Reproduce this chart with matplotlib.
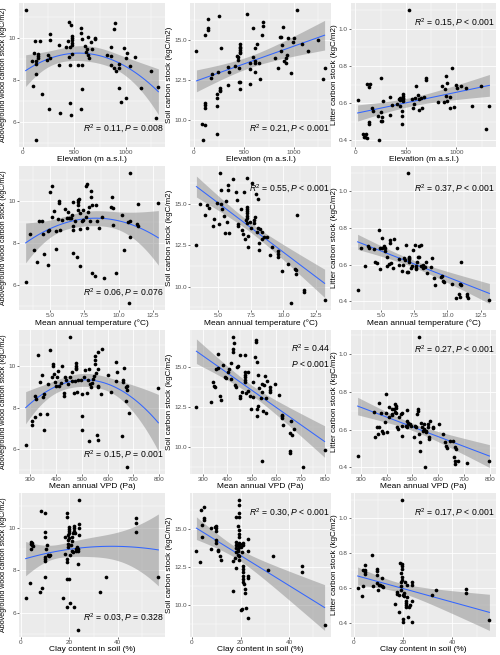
import numpy as np
import matplotlib
matplotlib.use("Agg")
import matplotlib.pyplot as plt
from matplotlib.ticker import AutoMinorLocator

plt.rcParams['font.family'] = ['Liberation Sans', 'DejaVu Sans']
plt.rcParams['mathtext.fontset'] = 'custom'
plt.rcParams['mathtext.rm'] = 'Liberation Sans'
plt.rcParams['mathtext.it'] = 'Liberation Sans:italic'

# ---- data ----
elev_wood_x = [30,121,174,115,154,154,154,89,131,131,128,98,187,128,256,269,266,246,269,236,354,354,361,426,443,449,472,459,449,456,456,466,482,482,482,482,482,482,538,577,564,564,574,564,577,604,623,613,636,646,636,663,679,705,705,820,859,859,859,886,892,902,909,935,941,941,958,981,1000,1007,1017,1040,1089,1148,1246,1296,1319]
elev_wood_y = [11.35,9.84,9.84,9.31,9.26,9.15,9.03,8.92,8.92,8.79,8.31,7.71,7.35,5.14,6.64,10.17,9.92,9.18,9.03,8.95,9.69,8.71,6.44,9.55,9.86,10.78,10.64,9.59,9.11,8.71,6.94,6.36,10.08,10.0,9.89,9.78,9.65,9.26,8.71,8.71,10.47,10.24,9.97,6.64,7.58,9.61,9.5,9.34,9.18,9.03,10.05,9.81,9.47,10.02,9.94,9.18,9.15,9.55,8.71,8.6,10.44,10.71,8.43,7.65,8.76,8.56,6.96,9.53,7.14,9.03,9.31,8.67,9.11,7.65,8.43,6.2,7.69]

elev_soil_x = [24,81,92,108,115,115,115,115,142,142,142,166,176,227,234,234,234,251,244,261,261,261,271,339,346,356,414,431,437,437,447,454,458,464,464,464,464,464,464,464,532,559,566,566,593,590,610,617,617,634,617,651,658,685,695,695,814,844,865,875,871,885,895,905,922,929,932,949,973,990,1007,1034,1085,1142,1244,1295,1312]
elev_soil_y = [14.3,9.79,8.74,15.29,9.73,11.07,10.96,10.76,15.7,15.6,16.28,12.6,12.85,11.64,11.37,10.9,9.15,16.48,13.02,11.99,11.9,11.8,14.46,12.16,13.33,12.98,13.35,14.01,13.95,13.74,13.23,12.4,11.93,14.71,14.57,14.46,14.36,14.26,14.15,12.4,16.57,13.54,13.17,12.24,15.74,13.95,14.5,13.54,13.7,14.71,12.98,13.54,12.57,15.29,16.07,15.87,13.85,13.23,15.19,15.19,14.3,14.67,15.8,13.68,13.89,13.54,14.05,15.12,12.92,14.88,15.08,16.87,14.71,14.3,14.98,12.55,13.23]

elev_litter_x = [23,77,85,95,110,113,113,133,133,140,150,177,167,227,233,250,260,250,257,267,277,343,343,367,417,433,440,443,443,460,460,467,473,473,473,473,473,560,533,567,583,593,600,617,627,633,650,660,683,700,700,817,860,873,883,893,900,907,910,933,940,953,977,1000,1010,1050,1100,1150,1243,1293,1327]
elev_litter_y = [0.617,0.435,0.418,0.42,0.437,0.414,0.705,0.497,0.49,0.686,0.704,0.559,0.576,0.532,0.4,0.506,0.502,0.735,0.55,0.527,0.612,0.633,0.538,0.59,0.598,0.621,0.615,0.63,0.585,0.559,0.488,0.532,0.647,0.638,0.63,0.62,0.612,0.62,1.102,0.576,0.594,0.63,0.691,0.644,0.562,0.62,0.63,0.576,0.633,0.735,0.726,0.608,0.691,0.606,0.674,0.744,0.638,0.709,0.612,0.576,0.633,0.788,0.582,0.695,0.682,0.691,0.682,0.585,0.691,0.462,0.585]

mat_wood_x = [3.22,3.52,3.82,4.06,4.21,4.43,4.51,4.58,4.83,4.83,4.95,5.0,5.12,5.12,5.3,5.42,5.42,5.57,5.62,5.62,5.69,5.86,6.11,6.23,6.31,6.36,6.43,6.53,6.6,6.65,6.68,6.68,6.68,6.85,6.97,7.02,7.05,7.05,7.1,7.05,7.15,7.15,7.15,7.35,7.42,7.42,7.6,7.64,7.72,7.72,7.77,7.84,7.89,8.01,8.01,8.04,8.09,8.26,8.33,8.45,8.58,8.82,8.9,9.44,9.52,9.57,9.57,9.81,10.26,10.43,10.72,10.8,10.8,10.8,10.75,11.37,11.42,11.42,12.9]
mat_wood_y = [6.17,8.44,7.66,7.11,9.06,9.02,8.44,7.5,6.94,8.55,8.62,10.42,10.69,9.25,9.53,7.72,8.58,9.12,10.0,9.9,8.62,9.09,9.59,9.2,9.48,9.17,9.17,9.17,9.33,9.92,8.81,8.62,7.53,9.02,7.33,9.8,10.03,9.92,10.06,9.56,9.41,8.67,6.9,9.02,9.09,9.56,9.25,10.69,10.78,8.7,9.48,9.72,9.02,10.47,10.19,9.8,6.59,6.44,9.8,9.06,8.7,9.22,6.36,9.72,10.16,9.64,8.86,6.59,9.3,7.69,8.97,9.02,8.28,11.33,5.14,8.89,8.78,9.83,9.9]

mat_soil_x = [3.3,3.61,3.94,4.1,4.28,4.59,4.66,4.85,5.03,5.1,5.18,5.23,5.28,5.44,5.49,5.57,5.62,5.75,5.75,5.8,6.08,6.34,6.44,6.47,6.52,6.73,6.78,6.86,6.96,7.04,7.11,7.16,7.19,7.22,7.22,7.22,7.22,7.22,7.22,7.29,7.29,7.42,7.5,7.55,7.76,7.81,7.76,7.89,7.94,8.02,8.07,8.14,8.14,8.2,8.32,8.32,8.53,8.71,8.97,9.1,9.56,9.61,9.61,9.87,10.39,10.59,10.9,10.95,10.98,11.03,11.55,11.55,13.17]
mat_soil_y = [12.49,15.0,14.32,14.94,14.75,13.66,14.07,15.06,13.81,16.89,15.82,15.0,14.69,14.28,13.25,15.16,13.93,16.13,15.86,13.25,16.5,15.72,15.25,13.81,13.66,14.69,13.4,13.19,15.72,12.88,14.01,13.87,16.58,14.69,14.59,14.42,14.28,14.14,14.79,13.05,12.37,13.93,13.52,16.28,14.01,14.18,13.87,15.62,13.31,15.31,13.56,12.22,12.63,13.46,13.31,12.9,12.98,12.98,11.91,12.37,12.16,11.95,11.81,10.93,11.4,8.99,11.09,10.99,10.78,14.32,9.79,9.69,9.2]

mat_litter_x = [3.24,3.5,3.8,4.0,4.13,4.44,4.52,4.69,4.82,4.9,4.9,5.08,5.08,5.2,5.33,5.33,5.46,5.46,5.59,5.66,5.66,5.76,5.89,5.97,6.22,6.35,6.35,6.6,6.65,6.73,6.81,6.91,6.98,7.03,7.11,7.11,7.11,7.11,7.06,7.24,7.37,7.44,7.54,7.62,7.67,7.67,7.75,7.82,7.87,7.88,8.0,8.0,8.13,8.2,8.33,8.38,8.5,8.77,8.84,9.02,9.1,9.53,9.6,9.66,9.78,10.37,10.93,11.0,11.06,10.93,10.62,10.88,11.5,11.55,11.5,13.17]
mat_litter_y = [0.463,0.692,0.591,0.701,0.692,0.683,0.617,0.612,0.792,0.577,0.689,0.689,0.746,0.703,0.692,0.674,0.641,0.591,0.605,0.733,0.721,0.609,0.582,0.738,0.692,0.632,0.6,0.564,0.596,0.639,0.626,0.71,0.56,0.562,0.644,0.639,0.63,0.617,1.103,0.582,0.594,0.68,0.71,0.582,0.591,0.575,0.617,0.642,0.64,0.701,0.71,0.591,0.596,0.582,0.587,0.617,0.555,0.585,0.639,0.528,0.488,0.534,0.537,0.511,0.507,0.496,0.496,0.489,0.617,0.422,0.42,0.439,0.439,0.418,0.43,0.407]

vpd_wood_x = [282,307,308,317,320,324,330,337,339,346,350,354,354,363,370,376,383,389,389,393,396,400,403,409,413,420,422,429,429,433,439,446,455,455,462,462,468,475,478,478,478,478,482,484,495,499,501,501,508,514,521,524,528,528,532,534,541,545,547,551,551,551,554,557,561,561,561,563,564,574,580,600,613,633,633,636,659,659,657,662,672,676,675,672,676,682,797]
vpd_wood_y = [6.2,7.38,7.19,7.56,8.55,8.42,10.5,9.22,7.69,9.56,8.52,8.63,6.95,7.69,9.14,10.73,9.48,10.06,9.98,9.59,9.2,9.05,9.48,9.75,9.02,9.17,9.98,8.7,8.55,9.48,9.3,9.13,11.39,9.48,9.72,9.28,8.7,9.25,10.11,9.98,9.91,9.83,8.75,9.33,9.33,8.63,7.58,6.95,9.48,9.8,8.7,9.3,9.83,6.39,9.13,8.98,9.17,9.36,9.52,10.06,10.27,10.45,9.67,6.67,6.47,9.05,8.98,9.83,10.66,8.67,10.81,9.56,8.73,10.19,9.25,9.72,9.3,9.2,6.63,9.88,8.97,9.05,8.86,8.31,5.14,7.73,8.94]

vpd_soil_x = [273,334,341,345,348,355,362,362,368,375,382,389,396,403,407,416,416,421,423,423,427,430,433,437,444,451,451,451,458,471,471,471,471,471,471,475,482,485,492,496,503,505,512,516,516,519,519,522,523,526,530,536,540,540,542,547,551,553,558,558,560,574,574,574,595,612,622,622,622,625,656,660,663,670,656,656,707,797]
vpd_soil_y = [12.48,12.83,14.03,13.82,13.72,14.86,14.9,15.79,13.2,12.95,15.1,14.34,14.28,14.65,14.86,14.24,15.23,16.88,16.1,15.89,16.47,13.86,13.72,14.96,15.06,15.72,13.2,13.04,13.45,14.65,14.48,14.34,14.17,14.03,15.72,13.35,13.51,14.65,13.2,12.38,13.1,14.03,15.58,16.67,16.51,15.27,12.38,11.92,12.58,14.48,13.66,13.04,13.93,9.11,13.45,12.21,13.86,14.44,12.13,13.04,14.13,13.72,13.57,13.41,13.93,13.24,11.8,11.92,12.0,11.38,10.89,11.59,10.76,11.1,9.73,9.63,8.72,9.79]

vpd_litter_x = [288,350,356,363,369,367,372,378,382,386,395,398,399,402,408,411,419,421,421,428,432,434,437,437,438,441,445,448,454,458,458,461,474,478,480,483,487,491,480,493,504,510,515,519,523,523,526,526,528,528,532,536,541,543,545,549,552,552,558,558,562,565,569,581,581,604,617,624,630,633,646,656,663,663,659,666,669,676,709,797]
vpd_litter_y = [0.461,0.695,0.558,0.611,0.614,0.575,0.742,0.689,0.593,0.584,0.64,0.689,0.789,0.589,0.667,0.719,0.711,0.684,0.677,0.707,0.695,0.733,0.725,0.716,0.689,0.611,0.602,0.667,0.681,0.567,0.619,0.689,0.619,0.702,0.646,0.637,0.632,0.628,0.611,0.619,0.563,0.619,0.611,0.684,0.698,0.707,1.093,0.575,0.532,0.488,0.637,0.614,0.593,0.602,0.632,0.4,0.589,0.593,0.628,0.611,0.549,0.558,0.646,0.614,0.607,0.628,0.579,0.532,0.514,0.502,0.54,0.54,0.432,0.418,0.453,0.505,0.496,0.435,0.421,0.435]

clay_wood_x = [2.1,3.7,4.1,4.1,4.4,4.8,4.8,5.1,7.9,8.3,8.85,9.96,10.2,10.2,10.2,10.2,10.2,10.2,10.65,11.06,11.3,11.75,12.0,17.3,18.3,18.3,18.95,18.95,18.95,18.95,19.2,19.2,19.6,19.6,19.6,19.6,19.9,20.05,20.05,20.05,20.05,20.05,20.3,20.3,20.6,21.0,21.0,21.3,21.4,21.7,22.0,22.0,22.0,22.0,22.4,22.8,22.8,23.1,23.4,23.4,23.8,23.8,24.1,24.2,24.2,24.2,32.5,34.9,47.3,47.3,47.3,56.6]
clay_wood_y = [6.67,7.41,9.32,9.22,9.0,9.16,9.27,9.12,6.98,10.79,7.15,10.71,9.78,9.55,8.6,8.5,8.42,7.67,9.0,9.19,8.73,8.68,8.73,6.68,9.58,8.76,10.67,10.51,6.25,8.5,8.39,7.57,9.66,9.43,9.22,9.07,7.57,10.05,9.94,9.84,9.74,9.5,6.45,8.73,9.19,9.58,9.38,8.91,9.74,8.84,10.09,10.0,9.84,6.28,9.74,8.99,8.91,9.07,5.16,8.29,8.88,9.0,10.16,11.32,9.97,9.66,6.98,7.67,10.47,10.2,9.78,7.67]

clay_soil_x = [1.8,3.45,3.86,4.14,4.14,4.97,4.97,4.97,7.72,8.0,9.38,9.8,9.8,9.8,9.8,9.8,10.5,10.75,11.45,11.86,17.0,17.0,17.65,17.93,18.07,18.3,18.3,18.3,18.3,18.76,18.76,19.0,19.0,19.0,19.3,19.3,19.3,19.3,19.3,19.3,19.3,19.3,19.3,19.3,19.3,20.1,20.4,19.7,20.1,20.4,20.8,21.1,21.1,21.1,21.1,21.1,21.1,21.1,21.5,21.8,21.8,22.1,22.9,23.2,23.2,23.2,23.2,33.5,31.2,45.5,45.5,54.6]
clay_soil_y = [13.55,12.86,16.31,15.31,14.48,16.45,15.77,15.62,15.1,13.69,15.15,15.21,15.06,14.9,14.32,14.07,13.55,13.65,13.24,12.99,10.91,12.93,13.13,13.49,12.47,15.83,14.17,13.96,13.76,15.21,13.34,13.55,13.69,13.96,16.97,16.6,16.1,15.83,14.94,14.69,14.48,14.11,13.82,13.24,12.99,9.67,9.75,14.03,13.86,13.49,14.11,14.0,12.57,12.37,12.16,11.95,11.74,11.51,11.37,11.06,10.79,9.81,9.15,14.38,13.55,11.89,11.78,13.24,12.34,12.55,12.2,8.67]

clay_litter_x = [1.6,3.4,3.8,3.8,4.5,4.5,4.8,4.8,7.5,7.8,9.3,9.5,9.5,9.5,9.8,10.2,10.6,11.3,11.6,12.0,16.8,17.5,17.7,18.4,18.4,18.7,19.1,19.1,19.1,19.1,19.4,19.4,19.4,19.5,19.5,19.5,19.8,20.1,20.1,20.5,20.5,20.7,21.1,21.1,21.4,21.4,21.6,21.8,22.2,22.5,22.9,23.5,23.5,23.5,23.6,31.8,33.4,45.7,45.7,55.0]
clay_litter_y = [0.6,0.555,0.613,0.704,0.704,0.682,0.731,0.691,0.789,0.609,0.709,0.695,0.676,0.627,0.591,0.618,0.618,0.655,0.609,0.604,0.509,0.578,0.567,0.56,0.464,0.745,0.591,0.609,0.633,0.687,0.736,0.724,0.709,1.105,0.662,0.645,0.56,0.422,0.404,0.573,0.555,0.636,0.524,0.513,0.504,0.491,0.618,0.549,0.433,0.491,0.505,0.618,0.636,0.524,0.404,0.56,0.587,0.596,0.573,0.418]

stats_labels = [
    "$R^2$ = 0.11, $P$ = 0.008", "$R^2$ = 0.21, $P$ < 0.001", "$R^2$ = 0.15, $P$ < 0.001",
    "$R^2$ = 0.06, $P$ = 0.076", "$R^2$ = 0.55, $P$ < 0.001", "$R^2$ = 0.37, $P$ < 0.001",
    "$R^2$ = 0.15, $P$ = 0.001", "$R^2$ = 0.44\n$P$ < 0.001", "$R^2$ = 0.27, $P$ < 0.001",
    "$R^2$ = 0.03, $P$ = 0.328", "$R^2$ = 0.30, $P$ < 0.001", "$R^2$ = 0.17, $P$ < 0.001",
]
x_titles = ["Elevation (m a.s.l.)", "Mean annual temperature (°C)",
            "Mean annual VPD (Pa)", "Clay content in soil (%)"]
y_titles = ["Aboveground wood carbon stock (kgC/m2)",
            "Soil carbon stock (kgC/m2)", "Litter carbon stock (kgC/m2)"]
x_ticks = [[0, 500, 1000], [5.0, 7.5, 10.0, 12.5],
           [300, 400, 500, 600, 700, 800], [0, 20, 40]]
x_ticklabels = [["0", "500", "1000"], ["5.0", "7.5", "10.0", "12.5"],
                ["300", "400", "500", "600", "700", "800"], ["0", "20", "40"]]
y_ticks = [[6, 8, 10], [10.0, 12.5, 15.0], [0.4, 0.6, 0.8, 1.0]]
y_ticklabels = [["6", "8", "10"], ["10.0", "12.5", "15.0"], ["0.4", "0.6", "0.8", "1.0"]]

series = [
    [(elev_wood_x, elev_wood_y), (elev_soil_x, elev_soil_y), (elev_litter_x, elev_litter_y)],
    [(mat_wood_x, mat_wood_y), (mat_soil_x, mat_soil_y), (mat_litter_x, mat_litter_y)],
    [(vpd_wood_x, vpd_wood_y), (vpd_soil_x, vpd_soil_y), (vpd_litter_x, vpd_litter_y)],
    [(clay_wood_x, clay_wood_y), (clay_soil_x, clay_soil_y), (clay_litter_x, clay_litter_y)],
]


def fit_band(x, y, deg):
    # least squares fit with 95% confidence band (like geom_smooth lm)
    x = np.asarray(x, float)
    y = np.asarray(y, float)
    X = np.vander(x, deg + 1)
    coef = np.linalg.lstsq(X, y, rcond=None)[0]
    resid = y - X @ coef
    s2 = resid @ resid / (len(x) - deg - 1)
    cov = s2 * np.linalg.inv(X.T @ X)
    xs = np.linspace(x.min(), x.max(), 100)
    Xs = np.vander(xs, deg + 1)
    ys = Xs @ coef
    se = np.sqrt(np.einsum('ij,jk,ik->i', Xs, cov, Xs))
    return xs, ys, ys - 1.99 * se, ys + 1.99 * se


W, H = 500, 655
fig = plt.figure(figsize=(W / 100, H / 100), dpi=100)

col_px = [(19, 146), (190, 141), (351, 145)]
row_top = [3, 166, 330, 493]
panel_h = 144
text_y = [[0.125, 0.125, 0.86], [0.12, 0.84, 0.84], [0.13, 0.82, 0.86], [0.13, 0.86, 0.86]]
ylab_size = [5.1, 5.8, 5.8]

for r in range(4):
    for c in range(3):
        left, w = col_px[c]
        ax = fig.add_axes([left / W, 1 - (row_top[r] + panel_h) / H, w / W, panel_h / H])
        x, y = series[r][c]
        deg = 2 if c == 0 else 1
        ax.set_facecolor('#EBEBEB')
        xs, ys, lo, hi = fit_band(x, y, deg)
        ax.fill_between(xs, lo, hi, color='#8C8C8C', alpha=0.5, lw=0, zorder=2)
        ax.plot(xs, ys, color='#3366FF', lw=0.75, zorder=3)
        ax.scatter(x, y, s=7, color='black', lw=0, zorder=4)

        xr = max(x) - min(x)
        ax.set_xlim(min(x) - 0.05 * xr, max(x) + 0.05 * xr)
        ylo = min(min(y), lo.min())
        yhi = max(max(y), hi.max())
        ax.set_ylim(ylo - 0.05 * (yhi - ylo), yhi + 0.05 * (yhi - ylo))

        ax.set_xticks(x_ticks[r])
        ax.set_xticklabels(x_ticklabels[r])
        ax.set_yticks(y_ticks[c])
        ax.set_yticklabels(y_ticklabels[c])
        ax.xaxis.set_minor_locator(AutoMinorLocator(2))
        ax.yaxis.set_minor_locator(AutoMinorLocator(2))
        ax.set_axisbelow(True)
        ax.grid(which='major', color='white', lw=0.6)
        ax.grid(which='minor', color='white', lw=0.3)
        ax.tick_params(which='minor', length=0)
        ax.tick_params(which='major', length=1.5, width=0.5, color='#333333',
                       labelsize=4.6, labelcolor='#4D4D4D', pad=0.8)
        for s in ax.spines.values():
            s.set_visible(False)
        ax.set_xlabel(x_titles[r], fontsize=6.0, labelpad=0.5)
        ax.set_ylabel(y_titles[c], fontsize=ylab_size[c], labelpad=0.8)
        ax.text(0.99, text_y[r][c], stats_labels[r * 3 + c], transform=ax.transAxes,
                ha='right', va='center', fontsize=6.2, zorder=5, linespacing=1.6)

fig.savefig("out.png", dpi=100)
